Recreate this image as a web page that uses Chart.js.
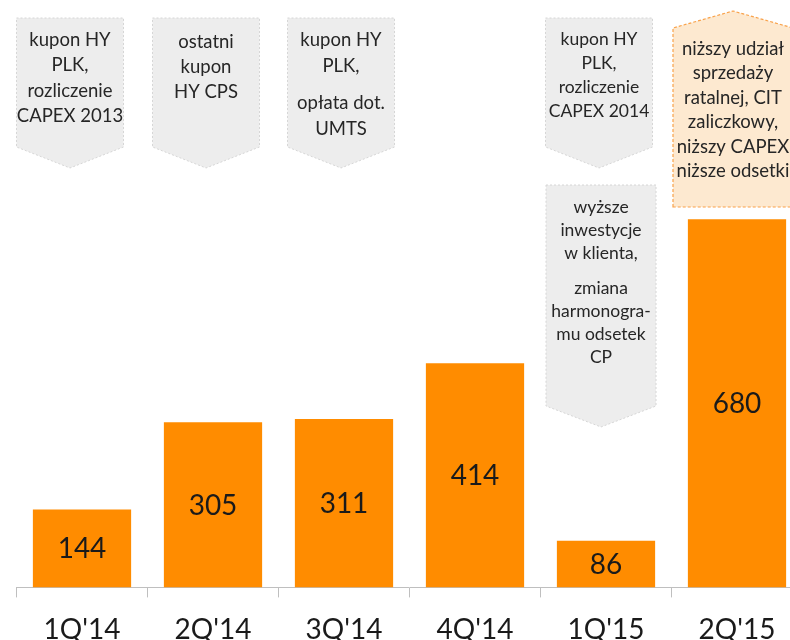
<!DOCTYPE html>
<html>
<head>
<meta charset="utf-8">
<script src="https://cdn.jsdelivr.net/npm/chart.js@4/dist/chart.umd.min.js"></script>
<style>
  html, body { margin: 0; padding: 0; background: #fff; overflow: hidden; }
  #wrap { width: 790px; height: 640px; overflow: hidden; position: relative; }
  #box { position: absolute; left: 0; top: 0; width: 820px; height: 665px; }
</style>
</head>
<body>
<div id="wrap"><div id="box"><canvas id="chart"></canvas></div></div>
<script>
const quarters = ["1Q'14", "2Q'14", "3Q'14", "4Q'14", "1Q'15", "2Q'15"];
const values = [144, 305, 311, 414, 86, 680];

// comment boxes above the bars (text only)
const notes1Q14 = [["kupon HY", "PLK,", "rozliczenie", "CAPEX 2013"]];
const notes2Q14 = [["ostatni", "kupon", "HY CPS"]];
const notes3Q14 = [["kupon HY", "PLK,"], ["opłata dot.", "UMTS"]];
const notes1Q15a = [["kupon HY", "PLK,", "rozliczenie", "CAPEX 2014"]];
const notes1Q15b = [["wyższe", "inwestycje", "w klienta,"], ["zmiana", "harmonogra-", "mu odsetek", "CP"]];
const notes2Q15 = [["niższy udział", "sprzedaży", "ratalnej, CIT", "zaliczkowy,", "niższy CAPEX", "niższe odsetki"]];

const FONT = "Lato, 'Open Sans', sans-serif";

const boxes = [
  { idx: 0, text: notes1Q14, dx: -12, w: 107, top: 18, bot: 147, tip: 168, y0: 40, lh: 25.5, gap: 0, size: 18.5 },
  { idx: 1, text: notes2Q14, dx: -7, w: 107, top: 18, bot: 147, tip: 168, y0: 42, lh: 25, gap: 0, size: 18.5 },
  { idx: 2, text: notes3Q14, dx: -3, w: 107, top: 18, bot: 147, tip: 168, y0: 40, lh: 26, gap: 11, size: 18.5 },
  { idx: 4, text: notes1Q15a, dx: -7, w: 107, top: 18, bot: 147, tip: 168, y0: 39, lh: 24, gap: 0, size: 17.5 },
  { idx: 4, text: notes1Q15b, dx: -5, w: 110, top: 185, bot: 406, tip: 427, y0: 207, lh: 23, gap: 12, size: 17.5 }
];
const upBox = { idx: 5, text: notes2Q15, dx: -4, w: 120, peak: 11, shoulder: 28, bot: 207, y0: 49, lh: 24.5, size: 18.5 };

function drawLines(ctx, cx, b) {
  ctx.font = b.size + "px " + FONT;
  ctx.fillStyle = "#262626";
  ctx.textAlign = "center";
  ctx.textBaseline = "middle";
  let y = b.y0;
  b.text.forEach((para, p) => {
    if (p > 0) y += b.gap;
    para.forEach(line => {
      ctx.fillText(line, cx, y);
      y += b.lh;
    });
  });
}

const notesPlugin = {
  id: "notes",
  afterDraw(chart) {
    const ctx = chart.ctx;
    const xs = chart.scales.x;
    ctx.save();
    boxes.forEach(b => {
      const cx = xs.getPixelForValue(b.idx) + b.dx;
      const l = cx - b.w / 2, r = cx + b.w / 2;
      ctx.beginPath();
      ctx.moveTo(l, b.top);
      ctx.lineTo(r, b.top);
      ctx.lineTo(r, b.bot);
      ctx.lineTo(cx, b.tip);
      ctx.lineTo(l, b.bot);
      ctx.closePath();
      ctx.fillStyle = "#ededed";
      ctx.fill();
      ctx.setLineDash([2, 2]);
      ctx.lineWidth = 1;
      ctx.strokeStyle = "#d6d6d6";
      ctx.stroke();
      ctx.setLineDash([]);
      drawLines(ctx, cx, b);
    });
    const u = upBox;
    const cx = xs.getPixelForValue(u.idx) + u.dx;
    const l = cx - u.w / 2, r = cx + u.w / 2;
    ctx.beginPath();
    ctx.moveTo(l, u.bot);
    ctx.lineTo(l, u.shoulder);
    ctx.lineTo(cx, u.peak);
    ctx.lineTo(r, u.shoulder);
    ctx.lineTo(r, u.bot);
    ctx.closePath();
    ctx.fillStyle = "#fde9d0";
    ctx.fill();
    ctx.setLineDash([3, 2]);
    ctx.lineWidth = 1.2;
    ctx.strokeStyle = "#f9a24a";
    ctx.stroke();
    ctx.setLineDash([]);
    drawLines(ctx, cx, u);
    ctx.restore();
  }
};

const valueLabels = {
  id: "valueLabels",
  afterDatasetsDraw(chart) {
    const ctx = chart.ctx;
    const meta = chart.getDatasetMeta(0);
    ctx.save();
    ctx.font = "28px " + FONT;
    ctx.fillStyle = "#1a1a1a";
    ctx.textAlign = "center";
    ctx.textBaseline = "middle";
    meta.data.forEach((bar, i) => {
      ctx.fillText(values[i], bar.x, (bar.y + bar.base) / 2 + 1);
    });
    ctx.restore();
  }
};

new Chart(document.getElementById("chart"), {
  type: "bar",
  data: {
    labels: quarters,
    datasets: [{
      data: values,
      backgroundColor: "#ff8c00",
      borderWidth: 0,
      categoryPercentage: 1,
      barPercentage: 0.75
    }]
  },
  options: {
    responsive: true,
    maintainAspectRatio: false,
    animation: false,
    layout: { padding: { left: 16.5, right: 17.5, top: 0, bottom: 2 } },
    plugins: { legend: { display: false }, tooltip: { enabled: false } },
    scales: {
      x: {
        grid: { display: true, drawOnChartArea: false, tickLength: 10, color: "#bfbfbf", offset: true },
        border: { display: true, color: "#bfbfbf", width: 1 },
        ticks: { padding: 16, color: "#1a1a1a", font: { family: FONT, size: 28 } }
      },
      y: {
        display: false,
        min: 0,
        max: 1085
      }
    }
  },
  plugins: [valueLabels, notesPlugin]
});
</script>
</body>
</html>
